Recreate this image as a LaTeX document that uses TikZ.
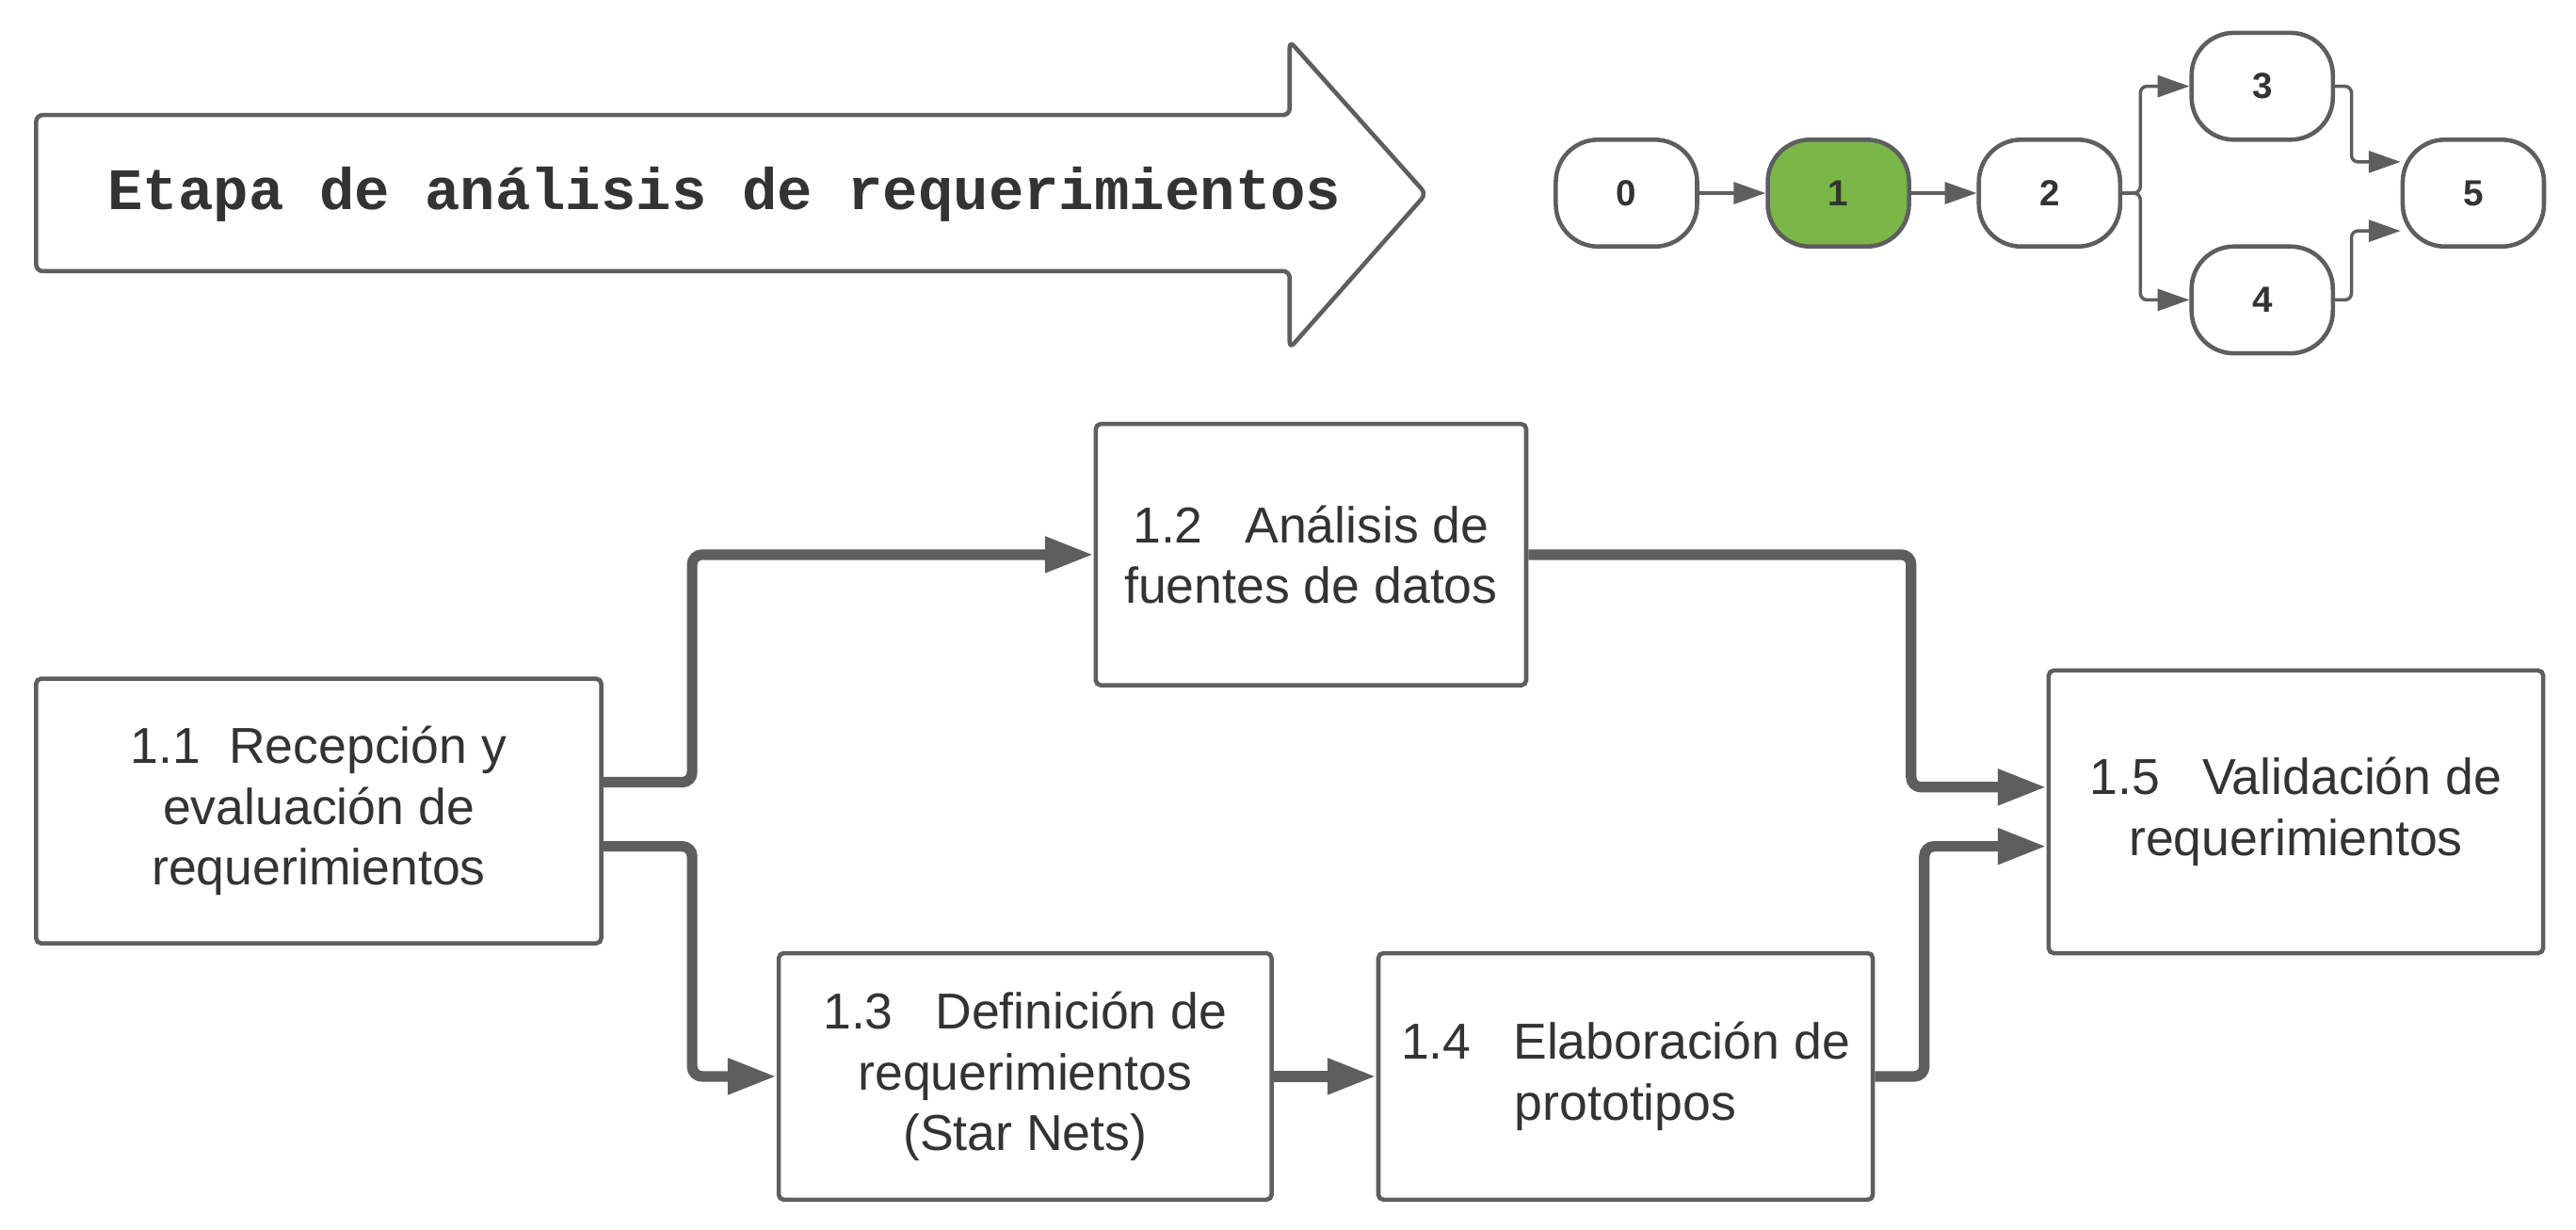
\documentclass[tikz,border=0pt]{standalone}
\usepackage{fontspec}
\setmainfont{Liberation Sans}
\setmonofont{Liberation Mono}
\usetikzlibrary{arrows.meta,calc}
\definecolor{linegray}{HTML}{5E5E5E}
\definecolor{txtgray}{HTML}{333333}
\definecolor{etapagreen}{HTML}{7AB648}

\begin{document}
\begin{tikzpicture}[x=0.0175cm,y=-0.0175cm,
  box/.style={draw=linegray,line width=1.3pt,rounded corners=1.5pt,fill=white,text=txtgray,align=center,inner sep=0pt,font=\fontsize{15.3}{18.4}\selectfont},
  etapa/.style={draw=linegray,line width=1.3pt,rounded corners=0.45cm,fill=white,text=txtgray,minimum width=1.505cm,minimum height=1.1375cm,inner sep=0pt,font=\fontsize{11}{13}\selectfont\bfseries},
  flow/.style={draw=linegray,line width=3.2pt,rounded corners=3pt,-{Triangle[length=5.2mm,width=3.6mm]}},
  link/.style={draw=linegray,line width=1pt,rounded corners=2pt,-{Triangle[length=3.4mm,width=2.3mm]}}]
\useasboundingbox (0,0) rectangle (1568,748);

% etapa (flecha grande)
\draw[draw=linegray,line width=1.3pt,fill=white,rounded corners=2pt] (22,70) -- (785,70) -- (785,25) -- (868,118) -- (785,212) -- (785,165) -- (22,165) -- cycle;
\node[text=txtgray,font=\fontsize{17.8}{20}\selectfont\ttfamily\bfseries] (titulo) at (441,118){Etapa de análisis de requerimientos};

% etapas 0-5
\node[etapa] (p0) at (990,117.5){0};
\node[etapa,fill=etapagreen] (p1) at (1119,117.5){1};
\node[etapa] (p2) at (1247.5,117.5){2};
\node[etapa] (p3) at (1377,52.5){3};
\node[etapa] (p4) at (1377,182.5){4};
\node[etapa] (p5) at (1505.5,117.5){5};

\draw [link] (p0) -- (p1);
\draw [link] (p1) -- (p2);
\draw [link] (p2.east) -- ++(11,0) |- (p3.west);
\draw [link] (p2.east) -- ++(11,0) |- (p4.west);
\draw [link] (p3.east) -- ++(10,0) |- ($(p5.west)+(0,-19)$);
\draw [link] (p4.east) -- ++(10,0) |- ($(p5.west)+(0,23)$);

% actividades
\node[box,minimum width=6.02cm,minimum height=2.8175cm] (t1) at (194,493.5){1.1\ \ Recepción y\\evaluación de\\requerimientos};
\node[box,minimum width=4.585cm,minimum height=2.7825cm] (t2) at (798,337.5){1.2\ \ \ Análisis de\\fuentes de datos};
\node[box,minimum width=5.25cm,minimum height=2.625cm] (t3) at (624,655){1.3\ \ \ Definición de\\requerimientos\\(Star Nets)};
\node[box,minimum width=5.2675cm,minimum height=2.625cm] (t4) at (989.5,655){1.4\ \ \ Elaboración de\\prototipos};
\node[box,minimum width=5.2675cm,minimum height=3.01cm] (t5) at (1397.5,494){1.5\ \ \ Validación de\\requerimientos};

\draw [flow] ($(t1.east)+(0,-17.5)$) -- ++(54,0) |- (t2.west);
\draw [flow] ($(t1.east)+(0,21.5)$) -- ++(54,0) |- (t3.west);
\draw [flow] (t2.east) -- ++(233,0) |- ($(t5.west)+(0,-15)$);
\draw [flow] (t3) -- (t4);
\draw [flow] (t4.east) -- ++(30,0) |- ($(t5.west)+(0,21)$);
\end{tikzpicture}
\end{document}
